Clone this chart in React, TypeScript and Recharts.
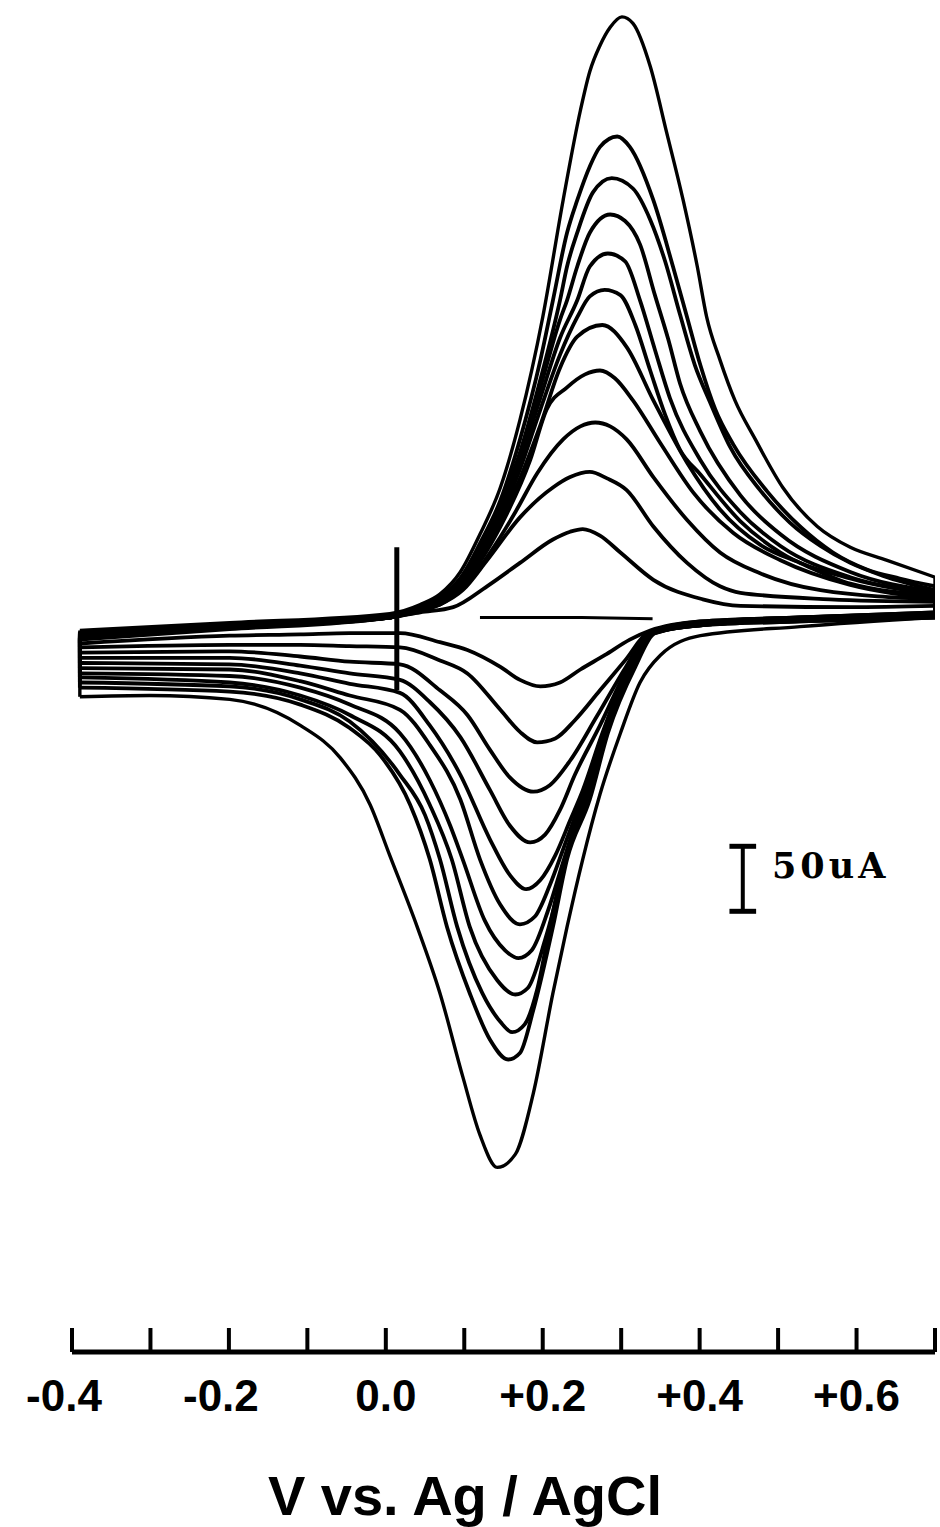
import { LineChart, Line, XAxis, YAxis, ReferenceLine } from "recharts";

type Pt = [number, number];

// [potential in V vs Ag/AgCl, current in µA]; sweep 1 is the largest loop
const fwd1: Pt[] = [[-0.39, -12], [-0.199, -6], [0.005, 1], [0.044, 8], [0.069, 16], [0.095, 33], [0.12, 62], [0.146, 98], [0.171, 150], [0.2, 229], [0.226, 319], [0.248, 388], [0.26, 418], [0.273, 438], [0.286, 452], [0.301, 460], [0.315, 455], [0.337, 422], [0.358, 371], [0.379, 319], [0.397, 268], [0.409, 229], [0.426, 196], [0.445, 165], [0.471, 135], [0.506, 98], [0.55, 68], [0.592, 52], [0.639, 42], [0.7, 29]];
const fwd2: Pt[] = [[-0.39, -13], [-0.199, -7], [0.005, -1], [0.044, 6], [0.069, 14], [0.095, 28], [0.12, 55], [0.146, 88], [0.171, 135], [0.197, 196], [0.213, 242], [0.231, 294], [0.244, 319], [0.26, 345], [0.273, 360], [0.295, 368], [0.311, 360], [0.341, 319], [0.366, 268], [0.384, 229], [0.401, 192], [0.42, 158], [0.443, 131], [0.486, 95], [0.528, 68], [0.57, 48], [0.613, 35], [0.655, 28], [0.7, 22]];
const fwd3: Pt[] = [[-0.39, -14], [-0.199, -8], [0.005, -1], [0.044, 6], [0.069, 13], [0.095, 28], [0.12, 53], [0.146, 85], [0.171, 125], [0.197, 181], [0.222, 242], [0.231, 268], [0.244, 294], [0.264, 325], [0.288, 336], [0.315, 328], [0.337, 304], [0.356, 272], [0.375, 231], [0.394, 192], [0.413, 164], [0.439, 129], [0.477, 96], [0.515, 71], [0.554, 53], [0.592, 40], [0.634, 30], [0.7, 19]];
const fwd4: Pt[] = [[-0.39, -15], [-0.199, -8], [0.005, -2], [0.044, 5], [0.069, 12], [0.095, 27], [0.12, 52], [0.146, 82], [0.171, 122], [0.197, 175], [0.222, 227], [0.231, 242], [0.244, 268], [0.26, 294], [0.286, 308], [0.305, 303], [0.324, 285], [0.343, 246], [0.36, 212], [0.375, 178], [0.401, 141], [0.452, 92], [0.503, 62], [0.592, 33], [0.7, 18]];
const fwd5: Pt[] = [[-0.39, -15], [-0.199, -8], [0.005, -2], [0.044, 5], [0.069, 12], [0.095, 25], [0.12, 49], [0.146, 80], [0.171, 118], [0.197, 167], [0.222, 213], [0.244, 242], [0.26, 268], [0.283, 278], [0.305, 272], [0.324, 242], [0.343, 204], [0.362, 167], [0.401, 119], [0.452, 79], [0.503, 53], [0.592, 29], [0.7, 17]];
const fwd6: Pt[] = [[-0.39, -16], [-0.199, -8], [0.005, -2], [0.044, 5], [0.069, 11], [0.095, 24], [0.12, 46], [0.146, 76], [0.171, 112], [0.197, 158], [0.222, 200], [0.244, 229], [0.26, 245], [0.279, 250], [0.299, 246], [0.318, 223], [0.337, 188], [0.356, 154], [0.375, 127], [0.401, 108], [0.452, 72], [0.503, 48], [0.592, 28], [0.7, 16]];
const fwd7: Pt[] = [[-0.39, -17], [-0.199, -9], [0.005, -2], [0.044, 5], [0.069, 10], [0.095, 22], [0.12, 44], [0.146, 73], [0.171, 105], [0.197, 146], [0.222, 190], [0.244, 214], [0.276, 223], [0.307, 206], [0.341, 165], [0.384, 117], [0.426, 81], [0.477, 54], [0.528, 40], [0.592, 24], [0.7, 15]];
const fwd8: Pt[] = [[-0.39, -18], [-0.199, -9], [0.005, -2], [0.044, 4], [0.069, 9], [0.095, 21], [0.12, 41], [0.146, 68], [0.184, 119], [0.205, 158], [0.231, 175], [0.254, 185], [0.273, 188], [0.292, 182], [0.315, 165], [0.35, 132], [0.392, 94], [0.443, 63], [0.503, 42], [0.592, 23], [0.7, 13]];
const fwd9: Pt[] = [[-0.39, -18], [-0.199, -10], [0.005, -2], [0.044, 4], [0.069, 8], [0.095, 19], [0.12, 37], [0.146, 60], [0.165, 79], [0.193, 109], [0.226, 135], [0.248, 145], [0.267, 148], [0.286, 145], [0.307, 135], [0.341, 106], [0.384, 73], [0.426, 48], [0.477, 32], [0.554, 19], [0.7, 12]];
const fwd10: Pt[] = [[-0.39, -18], [-0.199, -10], [0.005, -2], [0.044, 3], [0.069, 8], [0.098, 19], [0.129, 42], [0.171, 75], [0.213, 98], [0.235, 106], [0.26, 110], [0.282, 105], [0.307, 96], [0.341, 68], [0.384, 40], [0.426, 22], [0.452, 17], [0.566, 12], [0.7, 10]];
const fwd11: Pt[] = [[-0.39, -19], [-0.199, -11], [0.005, -2], [0.044, 2], [0.086, 6], [0.129, 22], [0.171, 40], [0.213, 58], [0.235, 64], [0.251, 66], [0.273, 61], [0.299, 48], [0.341, 27], [0.404, 12], [0.452, 7], [0.592, 6], [0.7, 7]];

const rev1: Pt[] = [[-0.39, -63], [-0.301, -62], [-0.199, -65], [-0.109, -85], [-0.058, -110], [-0.02, -146], [0.005, -185], [0.04, -240], [0.069, -291], [0.098, -355], [0.12, -400], [0.142, -425], [0.165, -415], [0.188, -368], [0.213, -291], [0.231, -240], [0.251, -188], [0.273, -138], [0.299, -91], [0.324, -52], [0.35, -31], [0.401, -16], [0.528, -9], [0.7, -2]];
const rev2: Pt[] = [[-0.39, -56], [-0.199, -59], [-0.109, -69], [-0.046, -87], [-0.007, -108], [0.031, -146], [0.056, -188], [0.078, -240], [0.107, -291], [0.133, -327], [0.156, -342], [0.171, -337], [0.188, -304], [0.213, -240], [0.231, -188], [0.26, -142], [0.283, -91], [0.318, -40], [0.343, -14], [0.401, -8], [0.528, -5], [0.7, -2]];
const rev3: Pt[] = [[-0.39, -52], [-0.199, -55], [-0.109, -65], [-0.046, -82], [0.018, -123], [0.05, -154], [0.069, -188], [0.091, -240], [0.123, -291], [0.146, -313], [0.161, -321], [0.177, -315], [0.193, -288], [0.209, -240], [0.225, -196], [0.256, -142], [0.281, -91], [0.315, -40], [0.342, -14], [0.401, -8], [0.528, -5], [0.7, -2]];
const rev4: Pt[] = [[-0.39, -48], [-0.199, -52], [-0.109, -62], [-0.046, -77], [0.018, -105], [0.056, -146], [0.084, -188], [0.107, -240], [0.142, -281], [0.165, -292], [0.181, -287], [0.203, -250], [0.22, -212], [0.232, -181], [0.254, -142], [0.279, -91], [0.314, -40], [0.341, -14], [0.401, -8], [0.528, -4], [0.7, -1]];
const rev5: Pt[] = [[-0.39, -45], [-0.199, -47], [-0.109, -56], [-0.046, -69], [0.018, -91], [0.056, -127], [0.082, -162], [0.098, -188], [0.126, -235], [0.152, -258], [0.169, -264], [0.186, -258], [0.207, -227], [0.225, -192], [0.251, -142], [0.278, -91], [0.313, -40], [0.339, -14], [0.401, -8], [0.528, -4], [0.7, -1]];
const rev6: Pt[] = [[-0.39, -41], [-0.199, -42], [-0.109, -51], [-0.046, -62], [0.018, -73], [0.056, -100], [0.095, -142], [0.12, -188], [0.146, -223], [0.171, -238], [0.19, -232], [0.209, -208], [0.228, -177], [0.249, -142], [0.277, -91], [0.311, -40], [0.339, -14], [0.401, -7], [0.528, -4], [0.7, 0]];
const rev7: Pt[] = [[-0.39, -37], [-0.199, -38], [-0.109, -45], [-0.046, -53], [0.018, -60], [0.056, -85], [0.095, -123], [0.133, -173], [0.158, -200], [0.179, -211], [0.197, -204], [0.216, -185], [0.235, -158], [0.251, -135], [0.276, -91], [0.31, -40], [0.338, -14], [0.401, -7], [0.528, -3], [0.7, 0]];
const rev8: Pt[] = [[-0.39, -33], [-0.199, -33], [-0.109, -39], [-0.046, -45], [0.018, -50], [0.056, -67], [0.095, -94], [0.133, -135], [0.158, -162], [0.184, -175], [0.203, -169], [0.222, -150], [0.241, -123], [0.273, -85], [0.309, -40], [0.337, -14], [0.401, -6], [0.528, -3], [0.7, 1]];
const rev9: Pt[] = [[-0.39, -29], [-0.199, -28], [-0.109, -32], [-0.046, -36], [0.018, -38], [0.069, -58], [0.104, -77], [0.133, -104], [0.158, -125], [0.188, -136], [0.209, -131], [0.235, -112], [0.269, -78], [0.306, -40], [0.335, -14], [0.401, -6], [0.528, -2], [0.7, 1]];
const rev10: Pt[] = [[-0.39, -25], [-0.199, -23], [-0.109, -23], [-0.046, -24], [0.018, -25], [0.069, -35], [0.104, -45], [0.146, -73], [0.171, -90], [0.193, -98], [0.216, -95], [0.241, -81], [0.273, -58], [0.305, -35], [0.334, -14], [0.401, -5], [0.528, -2], [0.7, 2]];
const rev11: Pt[] = [[-0.39, -22], [-0.199, -16], [-0.109, -15], [-0.046, -14], [0.018, -14], [0.069, -21], [0.104, -27], [0.146, -40], [0.171, -50], [0.197, -55], [0.222, -52], [0.248, -42], [0.279, -31], [0.311, -19], [0.337, -12], [0.401, -5], [0.528, -2], [0.7, 2]];

// background sweep without analyte
const blank: Pt[] = [[0.12, -2], [0.25, -2], [0.34, -3]];

// switching marker near 0 V
const markerE = 0.014;
const markerTop = 52;
const markerBottom = -58;

// 50 µA scale bar
const barE = 0.455;
const barTop = -178;
const barBottom = -228;
const barCap = 0.017;

const xTicks = [-0.4, -0.3, -0.2, -0.1, 0, 0.1, 0.2, 0.3, 0.4, 0.5, 0.6, 0.7];
const xTickLabels = ["-0.4", "", "-0.2", "", "0.0", "", "+0.2", "", "+0.4", "", "+0.6", ""];

const forward = [fwd1, fwd2, fwd3, fwd4, fwd5, fwd6, fwd7, fwd8, fwd9, fwd10, fwd11];
const reverse = [rev1, rev2, rev3, rev4, rev5, rev6, rev7, rev8, rev9, rev10, rev11];

const rows = (pts: Pt[]) => pts.map(([e, i]) => ({ e, i }));

const AxisTick = (props: any) => {
  const { x, y, index } = props;
  const label = xTickLabels[index];
  return (
    <g>
      <line x1={x} x2={x} y1={y - 24} y2={y} stroke="#000" strokeWidth={4} />
      {label ? (
        <text
          x={label.startsWith("-") ? x - 8 : x}
          y={y + 59}
          textAnchor="middle"
          fontFamily="'Liberation Sans', Arial, sans-serif"
          fontWeight="bold"
          fontSize={44}
          fill="#000"
        >
          {label}
        </text>
      ) : null}
    </g>
  );
};

export default function App() {
  const lines = forward.flatMap((fwd, k) => {
    const rev = reverse[k];
    const w = k === 0 ? 3.4 : 3.8;
    const ends = [
      [fwd[0], rev[0]],
      [fwd[fwd.length - 1], rev[rev.length - 1]],
    ] as Pt[][];
    return [
      <Line key={`f${k}`} data={rows(fwd)} dataKey="i" type="monotone" stroke="#000" strokeWidth={w} dot={false} activeDot={false} isAnimationActive={false} />,
      <Line key={`r${k}`} data={rows(rev)} dataKey="i" type="monotone" stroke="#000" strokeWidth={w} dot={false} activeDot={false} isAnimationActive={false} />,
      ...ends.map((seg, j) => (
        <Line key={`c${k}-${j}`} data={rows(seg)} dataKey="i" type="linear" stroke="#000" strokeWidth={w} dot={false} activeDot={false} isAnimationActive={false} />
      )),
    ];
  });

  return (
    <div style={{ position: "absolute", left: 0, top: 0, width: 940, height: 1527, background: "#fff" }}>
      <LineChart width={940} height={1527} margin={{ top: 0, right: 5, bottom: 0, left: 72 }}>
        <XAxis
          type="number"
          dataKey="e"
          domain={[-0.4, 0.7]}
          ticks={xTicks}
          interval={0}
          allowDataOverflow
          height={175}
          tickSize={0}
          tickMargin={0}
          tickLine={false}
          tick={<AxisTick />}
          axisLine={{ stroke: "#000", strokeWidth: 5 }}
          label={{
            content: () => (
              <text
                x={465}
                y={1515}
                textAnchor="middle"
                fontFamily="'Liberation Sans', Arial, sans-serif"
                fontWeight="bold"
                fontSize={56}
                fill="#000"
              >
                V vs. Ag / AgCl
              </text>
            ),
          }}
        />
        <YAxis type="number" domain={[-567, 473]} hide width={0} allowDataOverflow />
        {lines}
        <Line data={rows(blank)} dataKey="i" type="linear" stroke="#000" strokeWidth={3} dot={false} activeDot={false} isAnimationActive={false} />
        <ReferenceLine
          segment={[{ x: markerE, y: markerTop }, { x: markerE, y: markerBottom }]}
          stroke="#000"
          strokeWidth={5}
          ifOverflow="visible"
        />
        <ReferenceLine
          segment={[{ x: barE, y: barTop }, { x: barE, y: barBottom }]}
          stroke="#000"
          strokeWidth={4}
          ifOverflow="visible"
          label={{
            content: () => (
              <text
                x={772}
                y={878}
                fontFamily="'DejaVu Serif', serif"
                fontWeight="bold"
                fontSize={35}
                letterSpacing={4}
                fill="#000"
              >
                50uA
              </text>
            ),
          }}
        />
        <ReferenceLine
          segment={[{ x: barE - barCap, y: barTop }, { x: barE + barCap, y: barTop }]}
          stroke="#000"
          strokeWidth={5}
          ifOverflow="visible"
        />
        <ReferenceLine
          segment={[{ x: barE - barCap, y: barBottom }, { x: barE + barCap, y: barBottom }]}
          stroke="#000"
          strokeWidth={5}
          ifOverflow="visible"
        />
      </LineChart>
    </div>
  );
}
